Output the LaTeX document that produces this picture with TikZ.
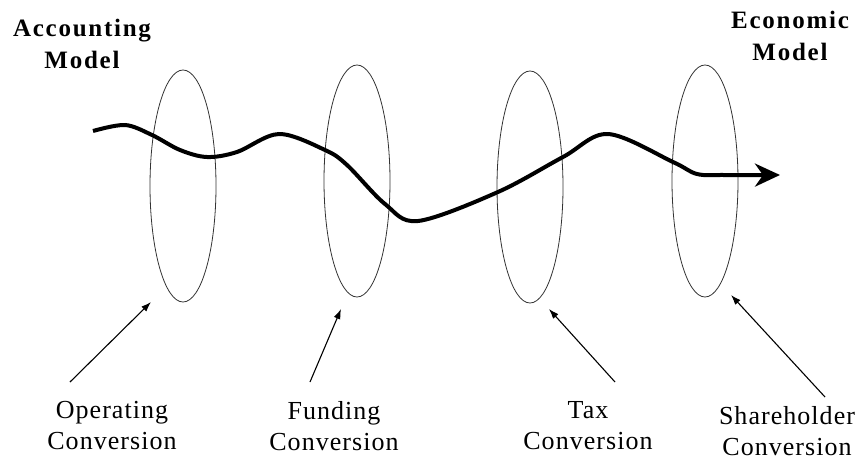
\documentclass[tikz,border=0pt]{standalone}
\usepackage{fontspec}
\setmainfont{Liberation Serif}
\newfontfamily\lblfont[LetterSpace=4]{Liberation Serif}
\newfontfamily\hdrfont[LetterSpace=7]{Liberation Serif}
\usetikzlibrary{shapes.geometric,arrows.meta}
\begin{document}
\begin{tikzpicture}[x=1pt,y=-1pt,
  ell/.style={draw=black!80,line width=0.8pt,ellipse,inner sep=0pt,minimum width=66pt,minimum height=232pt},
  lbl/.style={align=center,inner sep=0pt,anchor=north,font=\lblfont\fontsize{26}{31}\selectfont},
  hdr/.style={align=center,inner sep=0pt,anchor=north,font=\hdrfont\bfseries\fontsize{25}{32}\selectfont},
  pointer/.style={line width=1.1pt,-{Latex[length=10pt,width=7pt]}},
  flow/.style={line width=4pt,-{Stealth[length=25pt,width=23pt,inset=8pt]}}]
\useasboundingbox (0,0) rectangle (858,460);
% ellipses
\node[ell] (e1) at (183,186) {};
\node[ell] (e2) at (357,181) {};
\node[ell] (e3) at (530,187) {};
\node[ell] (e4) at (705,181) {};
% headers
\node[hdr] (acc) at (82,19) {Accounting\\Model};
\node[hdr] (eco) at (790,11) {Economic\\Model};
% flow curve
\draw[flow] plot[smooth,tension=0.55] coordinates {(93,131) (125,125) (152,135) (180,150) (207,157) (237,152) (279,134) (325,150) (347,165) (385,204) (418,221) (498,192) (563,157) (608,134) (673,162) (697,174) (725,175) (780,175)};
% labels
\node[lbl] (op) at (112,401) {Operating\\Conversion};
\node[lbl] (fu) at (334,401) {Funding\\Conversion};
\node[lbl] (tx) at (588,401) {Tax\\Conversion};
\node[lbl] (sh) at (787,406) {Shareholder\\Conversion};
% pointer arrows
\coordinate (p1s) at (70,382);  \coordinate (p1e) at (151,302);
\coordinate (p2s) at (310,382); \coordinate (p2e) at (341,309);
\coordinate (p3s) at (615,382); \coordinate (p3e) at (549,309);
\coordinate (p4s) at (825,397); \coordinate (p4e) at (731,295);
\draw[pointer] (p1s) -- (p1e);
\draw[pointer] (p2s) -- (p2e);
\draw[pointer] (p3s) -- (p3e);
\draw[pointer] (p4s) -- (p4e);
\end{tikzpicture}
\end{document}
